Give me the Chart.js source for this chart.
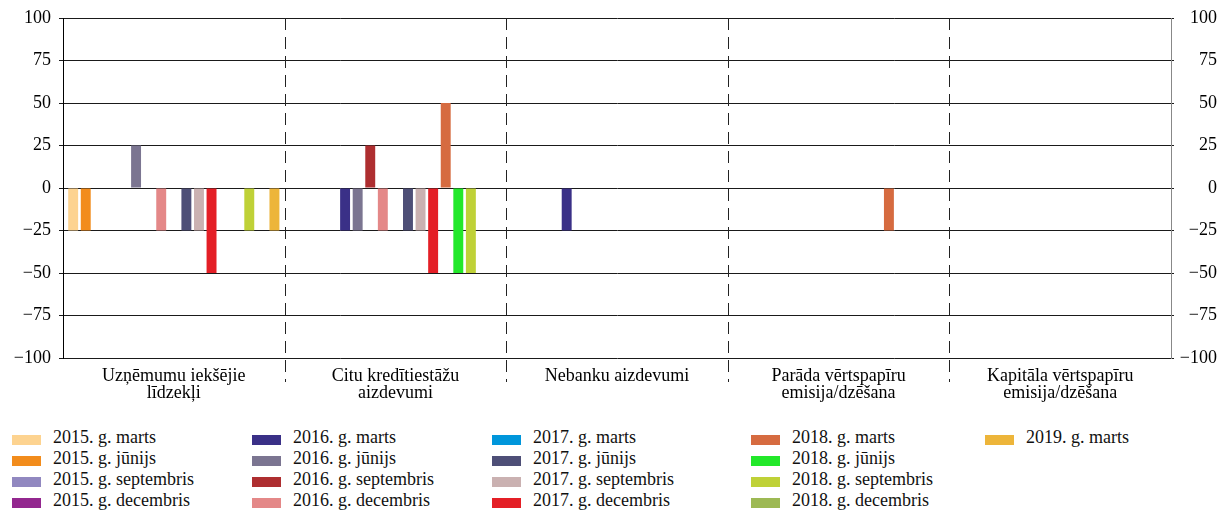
<!DOCTYPE html>
<html>
<head>
<meta charset="utf-8">
<title>Finansējuma avoti</title>
<script src="https://cdn.jsdelivr.net/npm/chart.js@4/dist/chart.umd.min.js"></script>
<style>
  body { margin: 0; background: #fff; }
  #wrap { position: relative; width: 1221px; height: 510px; overflow: hidden; font-family: 'Liberation Serif', 'Times New Roman', serif; }
  #chart { position: absolute; left: 0; top: 0; }
  .item { position: absolute; font-size: 18px; line-height: 21px; color: #111; white-space: nowrap; padding-left: 41px; }
  .item .box { position: absolute; left: 0; top: 8px; width: 29px; height: 10px; }
</style>
</head>
<body>
<div id="wrap">
  <canvas id="chart" width="1221" height="412"></canvas>
  <div id="legend"></div>
</div>
<script>
const categories = [
    ['Uzņēmumu iekšējie', 'līdzekļi'],
    ['Citu kredītiestāžu', 'aizdevumi'],
    'Nebanku aizdevumi',
    ['Parāda vērtspapīru', 'emisija/dzēšana'],
    ['Kapitāla vērtspapīru', 'emisija/dzēšana']
];

const seriesNames = [
    '2015. g. marts', '2015. g. jūnijs', '2015. g. septembris', '2015. g. decembris',
    '2016. g. marts', '2016. g. jūnijs', '2016. g. septembris', '2016. g. decembris',
    '2017. g. marts', '2017. g. jūnijs', '2017. g. septembris', '2017. g. decembris',
    '2018. g. marts', '2018. g. jūnijs', '2018. g. septembris', '2018. g. decembris',
    '2019. g. marts'
];

const seriesColors = [
    '#fdd390', '#f28c1c', '#9188c0', '#93278f',
    '#3a3087', '#7b7591', '#ae2e30', '#e48888',
    '#0096db', '#4e4f77', '#cab1b1', '#e41f26',
    '#d66b40', '#22e82a', '#bfd137', '#9db954',
    '#edb53a'
];

// one value per category, null = no bar
const v2015Mar = [-25, null, null, null, null];
const v2015Jun = [-25, null, null, null, null];
const v2015Sep = [null, null, null, null, null];
const v2015Dec = [null, null, null, null, null];
const v2016Mar = [null, -25, -25, null, null];
const v2016Jun = [25, -25, null, null, null];
const v2016Sep = [null, 25, null, null, null];
const v2016Dec = [-25, -25, null, null, null];
const v2017Mar = [null, null, null, null, null];
const v2017Jun = [-25, -25, null, null, null];
const v2017Sep = [-25, -25, null, null, null];
const v2017Dec = [-50, -50, null, null, null];
const v2018Mar = [null, 50, null, -25, null];
const v2018Jun = [null, -50, null, null, null];
const v2018Sep = [-25, -50, null, null, null];
const v2018Dec = [null, null, null, null, null];
const v2019Mar = [-25, null, null, null, null];

const seriesValues = [
    v2015Mar, v2015Jun, v2015Sep, v2015Dec,
    v2016Mar, v2016Jun, v2016Sep, v2016Dec,
    v2017Mar, v2017Jun, v2017Sep, v2017Dec,
    v2018Mar, v2018Jun, v2018Sep, v2018Dec,
    v2019Mar
];

const yMin = -100;
const yMax = 100;
const yStep = 25;

const fontFamily = "'Liberation Serif', 'Times New Roman', serif";
const tickFont = { family: fontFamily, size: 18, lineHeight: 0.95 };
const gridColor = '#1a1a1a';

function tickText(v) {
    return v < 0 ? '\u2212' + Math.abs(v) : String(v);
}

// dashed lines between the categories, running a bit below the axis
const separators = {
    id: 'separators',
    afterDraw(chart) {
        const ctx = chart.ctx;
        const area = chart.chartArea;
        const x = chart.scales.x;
        ctx.save();
        ctx.strokeStyle = '#222';
        ctx.lineWidth = 1;
        ctx.setLineDash([12, 7]);
        for (let i = 1; i < categories.length; i++) {
            const px = Math.round((x.getPixelForValue(i - 1) + x.getPixelForValue(i)) / 2) + 0.5;
            ctx.beginPath();
            ctx.moveTo(px, area.top);
            ctx.lineTo(px, area.bottom + 24);
            ctx.stroke();
        }
        ctx.restore();
    }
};

const datasets = seriesNames.map((name, i) => ({
    label: name,
    data: seriesValues[i],
    backgroundColor: seriesColors[i],
    borderWidth: 0,
    categoryPercentage: 0.965,
    barPercentage: 0.79
}));

const chart = new Chart(document.getElementById('chart'), {
    type: 'bar',
    data: { labels: categories, datasets: datasets },
    options: {
        responsive: false,
        animation: false,
        layout: { padding: { top: 18, right: 4, left: 0, bottom: 0 } },
        plugins: { legend: { display: false }, tooltip: { enabled: false } },
        scales: {
            x: {
                grid: { display: false },
                border: { display: false },
                ticks: { color: '#000', font: tickFont, padding: 2, maxRotation: 0, autoSkip: false },
                afterFit: s => { s.height = 54; }
            },
            y: {
                position: 'left',
                min: yMin, max: yMax,
                ticks: { stepSize: yStep, color: '#000', font: tickFont, padding: 8, callback: tickText },
                grid: { color: gridColor, tickColor: gridColor, tickLength: 4 },
                border: { color: '#000' },
                afterFit: s => { s.width = 63; }
            },
            y2: {
                position: 'right',
                min: yMin, max: yMax,
                ticks: { stepSize: yStep, color: '#000', font: tickFont, padding: 4, crossAlign: 'far', callback: tickText },
                grid: { drawOnChartArea: false, color: gridColor, tickColor: gridColor, tickLength: 3 },
                border: { color: '#888' },
                afterFit: s => { s.width = 46; }
            }
        }
    },
    plugins: [separators]
});

// legend in columns: one column per year
const legendCols = [12, 252, 492, 751, 985];
const legendTop = 427;
const legendRow = 21;
const legend = document.getElementById('legend');
chart.data.datasets.forEach((ds, k) => {
    const item = document.createElement('div');
    item.className = 'item';
    item.style.left = legendCols[Math.floor(k / 4)] + 'px';
    item.style.top = (legendTop + (k % 4) * legendRow) + 'px';
    const box = document.createElement('span');
    box.className = 'box';
    box.style.background = ds.backgroundColor;
    item.appendChild(box);
    item.appendChild(document.createTextNode(ds.label));
    legend.appendChild(item);
});
</script>
</body>
</html>
